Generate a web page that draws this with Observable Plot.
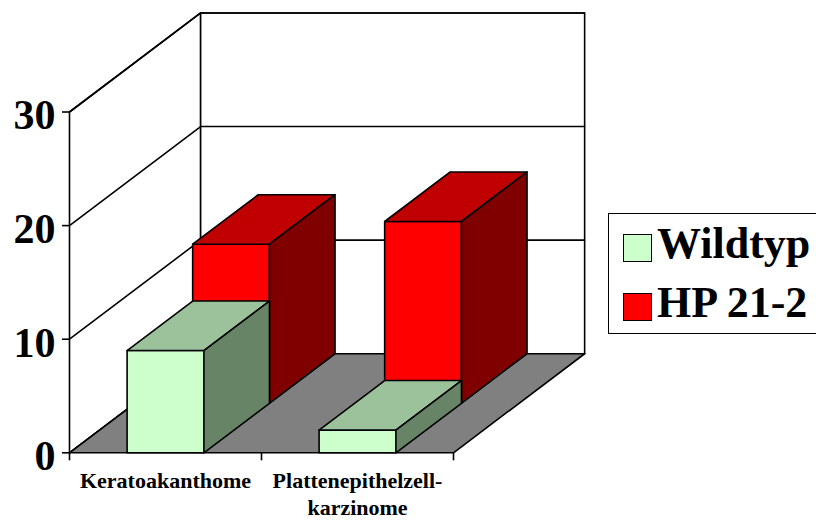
<!DOCTYPE html>
<html>
<head>
<meta charset="utf-8">
<script src="https://cdn.jsdelivr.net/npm/d3@7"></script>
<script src="https://cdn.jsdelivr.net/npm/@observablehq/plot@0.6"></script>
<style>
  html, body { margin: 0; padding: 0; background: #fff; }
  #chart { position: relative; width: 816px; height: 522px; overflow: hidden;
           font-family: "Liberation Serif", "Times New Roman", serif; }
  #chart svg { position: absolute; left: 0; top: 0; }
  .legend { position: absolute; left: 608px; top: 213px; width: 260px; height: 121px;
            border: 1.5px solid #000; box-sizing: border-box; background: #fff; }
  .legend .item { position: absolute; left: 14px; height: 44px; white-space: nowrap; }
  .legend .swatch { position: absolute; left: 0; width: 29px; height: 28px;
                    border: 1.5px solid #000; box-sizing: border-box; }
  .legend .label { position: absolute; left: 34px; top: 0; font-size: 44px; font-weight: bold;
                   line-height: 44px; color: #000; }
</style>
</head>
<body>
<div id="chart"></div>
<script>
// Tumour types on the x axis, two genotypes as rows in depth
const categories = ["Keratoakanthome", "Plattenepithelzell-\nkarzinome"];
const seriesNames = ["Wildtyp", "HP 21-2"];
const wildtyp = [9, 2];
const hp212 = [14, 16];
const yTicks = [0, 10, 20, 30];

const seriesValues = [wildtyp, hp212];
// front, top and side shading of each series' blocks
const seriesFaces = [
  {front: "#ccffcc", top: "#9cc29c", side: "#678467"},
  {front: "#ff0000", top: "#c00000", side: "#800000"}
];

// Oblique projection: depth 0 is the front plane, depth 1 the back wall.
// Moving back shifts a point right (category units) and up (value units).
const DEPTH_X = 0.683;
const DEPTH_Y = 8.72;
const P = (x, v, d) => ({x: x + d * DEPTH_X, y: v + d * DEPTH_Y});

const n = categories.length;
const yMax = d3.max(yTicks);
const barHalf = 0.2;
const rowDepth = 0.5;

function polygon(list, id, fill, pts) {
  pts.forEach((p) => list.push({id, fill, ...p}));
}

// walls
const walls = [];
polygon(walls, "side", "#ffffff", [P(0, 0, 0), P(0, yMax, 0), P(0, yMax, 1), P(0, 0, 1)]);
polygon(walls, "back", "#ffffff", [P(0, 0, 1), P(0, yMax, 1), P(n, yMax, 1), P(n, 0, 1)]);

// gridlines running along the side wall and across the back wall
const grid = [];
yTicks.forEach((v) => {
  [P(0, v, 0), P(0, v, 1), P(n, v, 1)].forEach((p) => grid.push({tick: v, ...p}));
});

// floor, then the blocks back row first so nearer faces paint over farther ones
const solids = [];
polygon(solids, "floor", "#808080", [P(0, 0, 0), P(n, 0, 0), P(n, 0, 1), P(0, 0, 1)]);
for (let s = seriesValues.length - 1; s >= 0; s--) {
  const d0 = s * rowDepth, d1 = (s + 1) * rowDepth;
  const c = seriesFaces[s];
  seriesValues[s].forEach((v, i) => {
    const x0 = i + 0.5 - barHalf, x1 = i + 0.5 + barHalf;
    polygon(solids, `front-${s}-${i}`, c.front, [P(x0, 0, d0), P(x0, v, d0), P(x1, v, d0), P(x1, 0, d0)]);
    polygon(solids, `top-${s}-${i}`, c.top, [P(x0, v, d0), P(x0, v, d1), P(x1, v, d1), P(x1, v, d0)]);
    polygon(solids, `side-${s}-${i}`, c.side, [P(x1, 0, d0), P(x1, v, d0), P(x1, v, d1), P(x1, 0, d1)]);
  });
}

const font = "Liberation Serif, Times New Roman, serif";
const sw = 1.6;

const chart = Plot.plot({
  width: 816,
  height: 522,
  x: {domain: [0, n], range: [69, 453], axis: null},
  y: {domain: [0, yMax], range: [452.3, 111.5], axis: null},
  color: {type: "identity"},
  marks: [
    Plot.line(walls, {x: "x", y: "y", z: "id", fill: "fill", stroke: "#000", strokeWidth: sw, curve: "linear-closed"}),
    Plot.line(grid, {x: "x", y: "y", z: "tick", stroke: "#000", strokeWidth: sw}),
    Plot.line(solids, {x: "x", y: "y", z: "id", fill: "fill", stroke: "#000", strokeWidth: sw, strokeLinejoin: "round", curve: "linear-closed"}),
    // value axis on the front plane
    Plot.ruleY(yTicks, {y: (d) => d, x1: 0, x2: 0, insetLeft: -7, stroke: "#000", strokeWidth: sw}),
    Plot.text(yTicks, {x: 0, y: (d) => d, text: (d) => String(d), textAnchor: "end", dx: -14, dy: 4,
      fontSize: 42, fontWeight: "bold", fontFamily: font, fill: "#000"}),
    // category axis
    Plot.ruleX(d3.range(n + 1), {x: (d) => d, y1: 0, y2: 0, insetBottom: -8, stroke: "#000", strokeWidth: sw}),
    Plot.text(categories, {x: (d, i) => i + 0.5, y: 0, text: (d) => d, lineAnchor: "top", dy: 16,
      lineHeight: 1.22, fontSize: 22, fontWeight: "bold", fontFamily: font, fill: "#000"})
  ]
});

const root = document.getElementById("chart");
root.appendChild(chart);

// legend
const legend = document.createElement("div");
legend.className = "legend";
const itemTops = [8, 67];
seriesNames.forEach((name, s) => {
  const item = document.createElement("div");
  item.className = "item";
  item.style.top = itemTops[s] + "px";
  const sw = document.createElement("div");
  sw.className = "swatch";
  sw.style.background = seriesFaces[s].front;
  sw.style.top = "12px";
  const lab = document.createElement("div");
  lab.className = "label";
  lab.textContent = name;
  item.appendChild(sw);
  item.appendChild(lab);
  legend.appendChild(item);
});
root.appendChild(legend);
</script>
</body>
</html>
